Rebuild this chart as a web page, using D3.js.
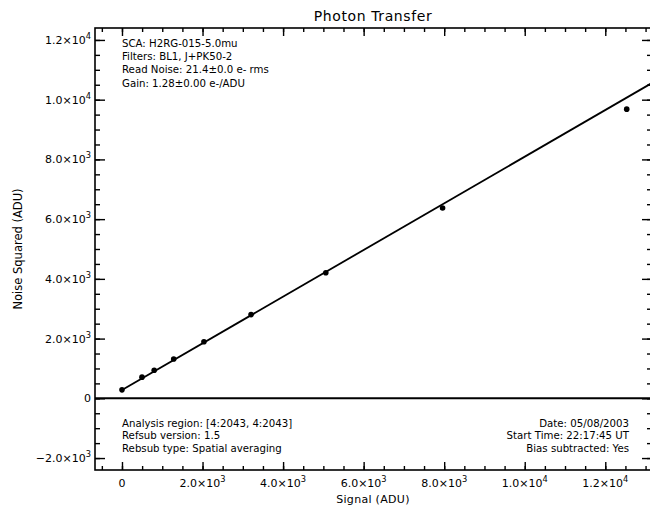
<!DOCTYPE html>
<html>
<head>
<meta charset="utf-8">
<script src="https://cdn.jsdelivr.net/npm/d3@7"></script>
<style>
  html, body { margin: 0; padding: 0; background: #fff; }
  svg { display: block; font-family: "DejaVu Sans", sans-serif; }
</style>
</head>
<body>
<svg id="chart" width="650" height="508"></svg>
<script>
// ---- data ----
const signal  = [0, 497, 800, 1284, 2035, 3205, 5061, 7960, 12532];
const noiseSq = [284, 709, 940, 1315, 1895, 2803, 4207, 6371, 9682];
const gain = 1.28;        // e-/ADU
const readNoise = 21.4;   // e- rms
const xTicks = [0, 2000, 4000, 6000, 8000, 10000, 12000];
const xTickLabels = [["0",""],["2.0×10","3"],["4.0×10","3"],["6.0×10","3"],["8.0×10","3"],["1.0×10","4"],["1.2×10","4"]];
const yTicks = [-2000, 0, 2000, 4000, 6000, 8000, 10000, 12000];
const yTickLabels = [["−2.0×10","3"],["0",""],["2.0×10","3"],["4.0×10","3"],["6.0×10","3"],["8.0×10","3"],["1.0×10","4"],["1.2×10","4"]];
const title = "Photon Transfer";
const xTitle = "Signal (ADU)";
const yTitle = "Noise Squared (ADU)";
const infoTopLeft = ["SCA: H2RG-015-5.0mu", "Filters: BL1, J+PK50-2", "Read Noise: 21.4±0.0 e- rms", "Gain: 1.28±0.00 e-/ADU"];
const infoBottomLeft = ["Analysis region: [4:2043, 4:2043]", "Refsub version: 1.5", "Rebsub type: Spatial averaging"];
const infoBottomRight = ["Date: 05/08/2003", "Start Time: 22:17:45 UT", "Bias subtracted: Yes"];

// ---- layout ----
const L = 95, R = 652, T = 28, B = 470;
const svg = d3.select("#chart");
const x = d3.scaleLinear().domain([-670, 13160]).range([L, R]);
const y = d3.scaleLinear().domain([-2400, 12400]).range([B, T]);
const xMinor = d3.range(-500, 13160, 500);
const yMinor = d3.range(-2000, 12400, 500);

function drawAxis(axis, tx, ty) {
  const g = svg.append("g").attr("transform", `translate(${tx},${ty})`).call(axis);
  g.select(".domain").remove();
  g.selectAll("text").remove();
  g.selectAll("line").attr("stroke", "#000").attr("stroke-width", 1.4);
  return g;
}
// bottom (ticks up), top (ticks down), left (ticks right), right (ticks left)
drawAxis(d3.axisTop(x).tickValues(xMinor).tickSize(4), 0, B);
drawAxis(d3.axisTop(x).tickValues(xTicks).tickSize(8), 0, B);
drawAxis(d3.axisBottom(x).tickValues(xMinor).tickSize(4), 0, T);
drawAxis(d3.axisBottom(x).tickValues(xTicks).tickSize(8), 0, T);
drawAxis(d3.axisRight(y).tickValues(yMinor).tickSize(5), L, 0);
drawAxis(d3.axisRight(y).tickValues(yTicks).tickSize(10), L, 0);
drawAxis(d3.axisLeft(y).tickValues(yMinor).tickSize(5), R, 0);
drawAxis(d3.axisLeft(y).tickValues(yTicks).tickSize(10), R, 0);

// frame
svg.append("rect").attr("x", L).attr("y", T).attr("width", R - L).attr("height", B - T)
  .attr("fill", "none").attr("stroke", "#000").attr("stroke-width", 1.6);

// tick labels
function label(g, parts, size) {
  g.append("tspan").text(parts[0]);
  if (parts[1]) g.append("tspan").attr("dy", -5).attr("font-size", size * 0.75).text(parts[1]);
}
xTicks.forEach((v, i) => {
  const t = svg.append("text").attr("x", x(v)).attr("y", 487).attr("text-anchor", "middle")
    .attr("font-size", 11).attr("fill", "#000");
  label(t, xTickLabels[i], 11);
});
yTicks.forEach((v, i) => {
  const t = svg.append("text").attr("x", 91).attr("y", y(v) + 4).attr("text-anchor", "end")
    .attr("font-size", 11).attr("fill", "#000");
  label(t, yTickLabels[i], 11);
});

// titles
svg.append("text").attr("x", 373).attr("y", 21).attr("text-anchor", "middle")
  .attr("font-size", 14).attr("letter-spacing", 0.6).text(title);
svg.append("text").attr("x", 373).attr("y", 503).attr("text-anchor", "middle")
  .attr("font-size", 11).attr("letter-spacing", 0.3).text(xTitle);
svg.append("text").attr("transform", `translate(22,${(T + B) / 2}) rotate(-90)`)
  .attr("text-anchor", "middle").attr("font-size", 11.5).text(yTitle);

// zero line
svg.append("line").attr("x1", L).attr("x2", R).attr("y1", y(0)).attr("y2", y(0))
  .attr("stroke", "#000").attr("stroke-width", 2);

// clip
svg.append("clipPath").attr("id", "clip").append("rect")
  .attr("x", L).attr("y", T).attr("width", R - L).attr("height", B - T);

// fit line: var = S/g + (RN/g)^2
const fitX = [0, x.domain()[1]];
const fit = d => d / gain + Math.pow(readNoise / gain, 2);
svg.append("path").attr("clip-path", "url(#clip)")
  .attr("d", d3.line().x(d => x(d)).y(d => y(fit(d)))(fitX))
  .attr("fill", "none").attr("stroke", "#000").attr("stroke-width", 1.8);

// points
svg.append("g").selectAll("circle").data(signal).join("circle")
  .attr("cx", d => x(d)).attr("cy", (d, i) => y(noiseSq[i])).attr("r", 2.8).attr("fill", "#000");

// info text
const fs = 10.2;
infoTopLeft.forEach((s, i) => svg.append("text").attr("x", 122).attr("y", 47 + i * 13.2)
  .attr("font-size", fs).text(s));
infoBottomLeft.forEach((s, i) => svg.append("text").attr("x", 122).attr("y", 427 + i * 12.3)
  .attr("font-size", fs).text(s));
infoBottomRight.forEach((s, i) => svg.append("text").attr("x", 629).attr("y", 427 + i * 12.3)
  .attr("text-anchor", "end").attr("font-size", fs).text(s));
</script>
</body>
</html>
